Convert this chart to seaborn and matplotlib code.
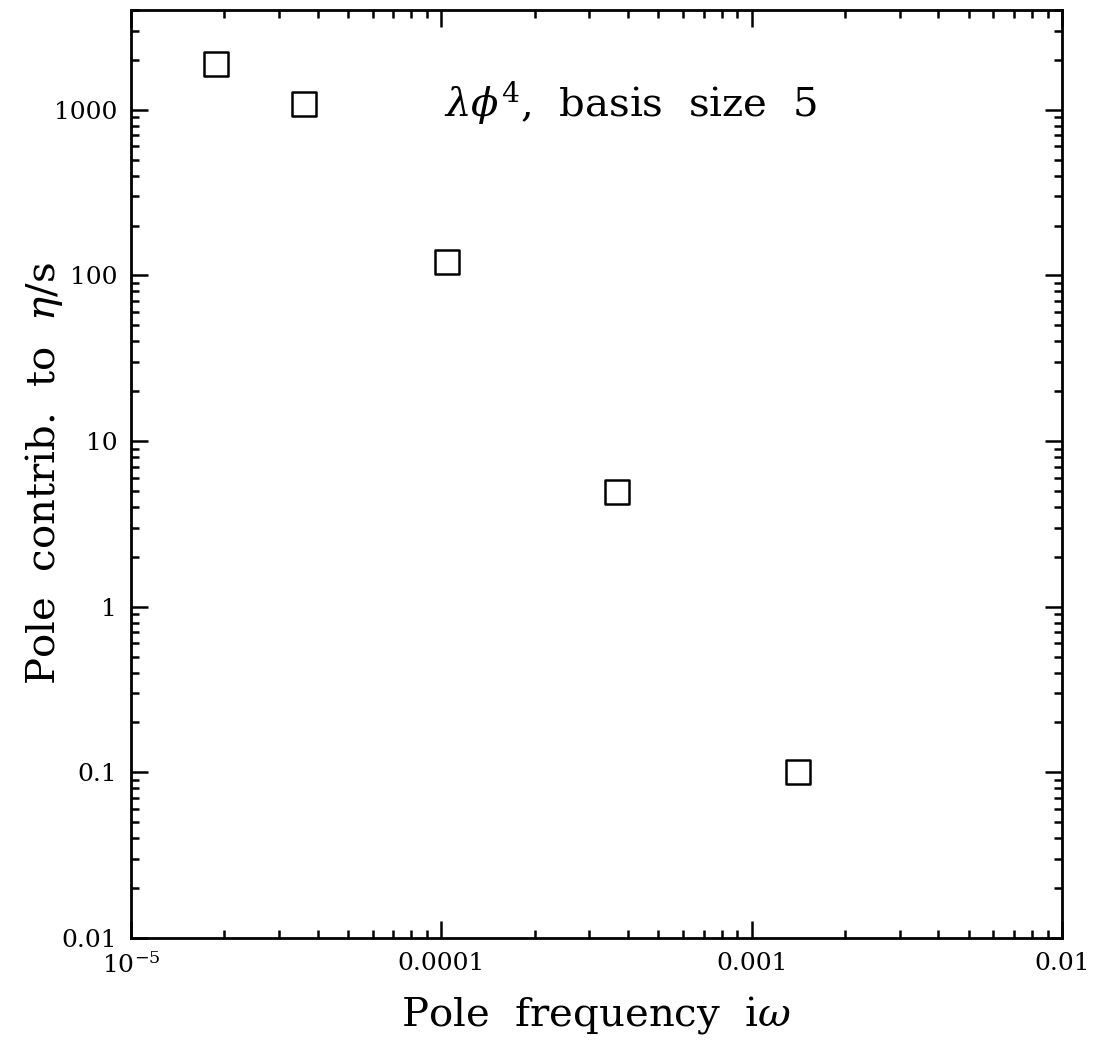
import matplotlib
matplotlib.use("Agg")
import matplotlib.pyplot as plt
import seaborn as sns
from matplotlib.ticker import LogLocator, FixedLocator, FixedFormatter, NullFormatter

# pole frequencies and their contributions to eta/s
pole_freq = [1.88e-5, 3.61e-5, 1.04e-4, 3.68e-4, 1.41e-3]
pole_contrib = [1897, 1087, 120, 4.95, 0.101]

x_ticks = [1e-5, 1e-4, 1e-3, 1e-2]
x_labels = ["$10^{-5}$", "0.0001", "0.001", "0.01"]
y_ticks = [0.01, 0.1, 1, 10, 100, 1000]
y_labels = ["0.01", "0.1", "1", "10", "100", "1000"]

sns.set_style("ticks")
plt.rcParams["font.family"] = ["DejaVu Serif"]
plt.rcParams["mathtext.fontset"] = "dejavuserif"
plt.rcParams["text.color"] = "black"
plt.rcParams["axes.labelcolor"] = "black"
plt.rcParams["xtick.color"] = "black"
plt.rcParams["ytick.color"] = "black"

fig = plt.figure(figsize=(10.93, 10.4), dpi=100)
ax = fig.add_axes([0.1199, 0.0981, 0.8517, 0.8923])

sns.scatterplot(x=pole_freq, y=pole_contrib, ax=ax, marker="s", s=300,
                facecolor="none", edgecolor="black", linewidth=1.8)

ax.set_xscale("log")
ax.set_yscale("log")
ax.set_xlim(1e-5, 1e-2)
ax.set_ylim(0.01, 4000)

ax.xaxis.set_major_locator(FixedLocator(x_ticks))
ax.xaxis.set_major_formatter(FixedFormatter(x_labels))
ax.yaxis.set_major_locator(FixedLocator(y_ticks))
ax.yaxis.set_major_formatter(FixedFormatter(y_labels))
ax.xaxis.set_minor_locator(LogLocator(base=10, subs=range(2, 10), numticks=20))
ax.yaxis.set_minor_locator(LogLocator(base=10, subs=range(2, 10), numticks=20))
ax.xaxis.set_minor_formatter(NullFormatter())
ax.yaxis.set_minor_formatter(NullFormatter())

ax.tick_params(which="both", direction="in", top=True, right=True, width=1.8, color="black")
ax.tick_params(which="major", length=12, labelsize=18, pad=10)
ax.tick_params(which="minor", length=6)
for sp in ax.spines.values():
    sp.set_linewidth(2)
    sp.set_color("black")

ax.set_xlabel(r"Pole  frequency  i$\omega$", fontsize=29, va="center")
ax.set_ylabel(r"Pole  contrib.  to  $\eta$/s", fontsize=29, va="center")
ax.xaxis.set_label_coords(0.5, -0.083)
ax.yaxis.set_label_coords(-0.093, 0.5)
ax.text(0.536, 0.90, r"$\lambda\phi^4$,  basis  size  5", transform=ax.transAxes,
        ha="center", va="center", fontsize=29)

fig.savefig("out.png", dpi=100)
